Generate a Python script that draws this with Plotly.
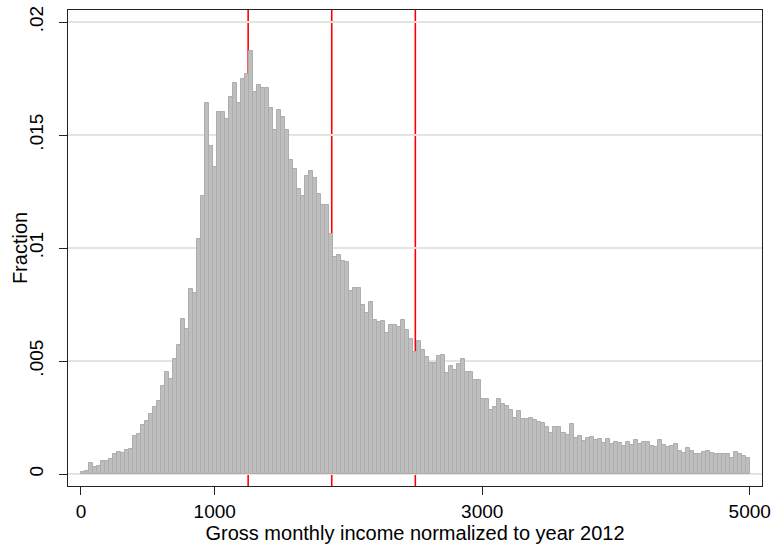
import numpy as np
import plotly.graph_objects as go

# Histogram of gross monthly income (normalized to 2012), 167 equal bins over 0-5000
bin_lo = 0
bin_hi = 5000
fractions = [
    0.0001, 0.00013, 0.0005, 0.0003, 0.00037, 0.00057, 0.00057, 0.00066, 0.00087, 0.00096,
    0.00095, 0.00106, 0.0011, 0.0017, 0.00178, 0.00218, 0.00234, 0.00265, 0.00297, 0.00322,
    0.00389, 0.00452, 0.0042, 0.00508, 0.0057, 0.00687, 0.0064, 0.0082, 0.008, 0.0104,
    0.0123, 0.0164, 0.0145, 0.0136, 0.0160, 0.0160, 0.0157, 0.0167, 0.0173, 0.0164,
    0.0175, 0.0177, 0.0187, 0.0169, 0.0172, 0.0171, 0.0171, 0.0162, 0.0152, 0.0161,
    0.0158, 0.0152, 0.0139, 0.0135, 0.0126, 0.0123, 0.0132, 0.0134, 0.0131, 0.0124,
    0.0119, 0.0119, 0.0106, 0.00962, 0.00971, 0.00942, 0.00936, 0.00808, 0.00821, 0.00824,
    0.00746, 0.00714, 0.00759, 0.0068, 0.00672, 0.00675, 0.00624, 0.00661, 0.00661, 0.00649,
    0.0068, 0.00636, 0.00597, 0.0054, 0.00589, 0.0055, 0.00517, 0.00489, 0.00491, 0.0052,
    0.00528, 0.00447, 0.00478, 0.00462, 0.00486, 0.00508, 0.00453, 0.00453, 0.00418, 0.00418,
    0.00334, 0.00334, 0.00283, 0.00297, 0.0033, 0.00308, 0.003, 0.00283, 0.0025, 0.0028,
    0.00244, 0.00244, 0.0025, 0.00241, 0.0023, 0.00225, 0.0021, 0.0018, 0.0021, 0.0021,
    0.0018, 0.00171, 0.0022, 0.00158, 0.00166, 0.00147, 0.0016, 0.00165, 0.00149, 0.00153,
    0.00137, 0.00155, 0.00132, 0.0014, 0.00136, 0.00122, 0.00141, 0.00129, 0.00149, 0.00134,
    0.00143, 0.0014, 0.00124, 0.00121, 0.00151, 0.00128, 0.00118, 0.00124, 0.00131, 0.00103,
    0.00095, 0.00114, 0.001, 0.0009, 0.00089, 0.00097, 0.00103, 0.00091, 0.0009, 0.00089,
    0.00087, 0.00087, 0.00072, 0.00096, 0.00089, 0.00081, 0.00069,
]

# Reference lines (quartile-style markers)
ref_lines = [1250, 1875, 2500]

x_tick_vals = [0, 1000, 3000, 5000]
x_tick_text = ["0", "1000", "3000", "5000"]
y_tick_vals = [0, 0.005, 0.01, 0.015, 0.02]
y_tick_text = ["0", ".005", ".01", ".015", ".02"]

edges = np.linspace(bin_lo, bin_hi, len(fractions) + 1)
centers = (edges[:-1] + edges[1:]) / 2
width = edges[1] - edges[0]

FONT = "Liberation Sans, Arial, Helvetica, sans-serif"

fig = go.Figure()
fig.add_trace(go.Bar(
    x=centers,
    y=fractions,
    width=width,
    marker=dict(color="#bebebe", line=dict(color="#adadad", width=1.0)),
    hoverinfo="x+y",
))

# Vertical markers sit underneath the bars
for v in ref_lines:
    fig.add_shape(type="line", xref="x", yref="paper", x0=v, x1=v, y0=0, y1=1,
                  line=dict(color="#ff0000", width=1.6), layer="below")

fig.update_layout(
    width=772, height=546,
    margin=dict(l=68, r=10, t=10, b=60),
    paper_bgcolor="white", plot_bgcolor="white",
    font=dict(family=FONT, size=19, color="black"),
    showlegend=False,
    bargap=0,
)

# Y-axis title placed as a rotated annotation left of the tick labels
fig.add_annotation(
    text="Fraction", textangle=-90,
    xref="paper", yref="paper", x=-0.069, y=0.5,
    xanchor="center", yanchor="middle", showarrow=False,
    font=dict(size=20, color="black"),
)

fig.update_xaxes(
    range=[-97, 5092],
    automargin=False,
    tickvals=x_tick_vals, ticktext=x_tick_text,
    ticks="outside", ticklen=8, tickwidth=1.2, tickcolor="#222",
    showgrid=False, zeroline=False,
    showline=True, mirror=True, linecolor="#222", linewidth=1.4,
    tickfont=dict(size=19),
    title=dict(text="Gross monthly income normalized to year 2012", font=dict(size=20), standoff=0),
)

fig.update_yaxes(
    range=[-0.000531, 0.020531],
    automargin=False,
    tickvals=y_tick_vals, ticktext=y_tick_text,
    tickangle=-90,
    ticks="outside", ticklen=8, tickwidth=1.2, tickcolor="#222",
    ticklabelstandoff=8,
    showgrid=True, gridcolor="#e4e4e4", gridwidth=1.5, zeroline=False,
    showline=True, mirror=True, linecolor="#222", linewidth=1.4,
    tickfont=dict(size=19),
)

fig.write_html("out.html")
